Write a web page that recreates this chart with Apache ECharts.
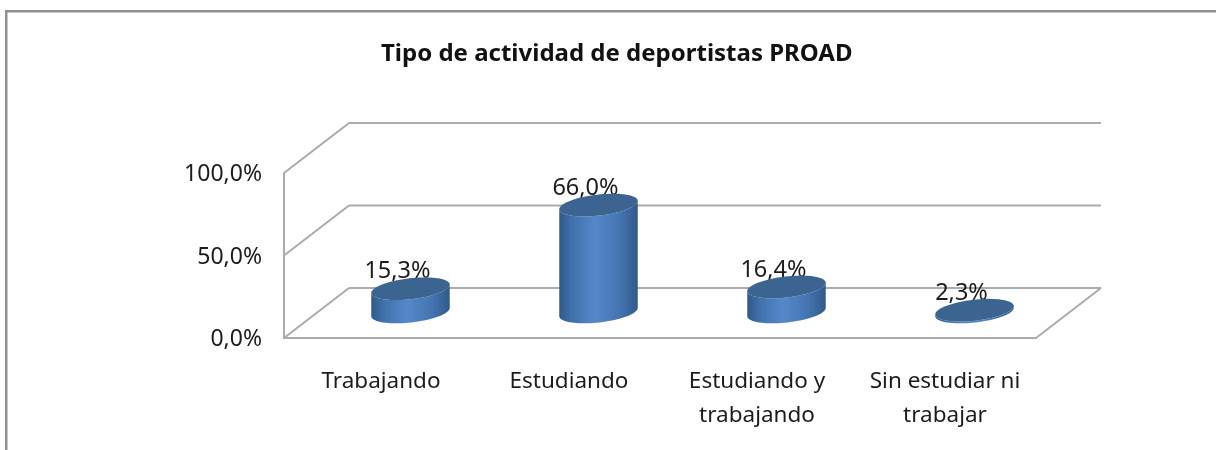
<!DOCTYPE html>
<html>
<head>
<meta charset="utf-8">
<style>html,body{margin:0;padding:0;background:#fff}#c{width:1216px;height:450px}</style>
<script src="https://cdn.jsdelivr.net/npm/echarts@6/dist/echarts.min.js"></script>
</head>
<body>
<div id="c"></div>
<script>
const titleText = 'Tipo de actividad de deportistas PROAD';
const categories = ['Trabajando', 'Estudiando', 'Estudiando y\ntrabajando', 'Sin estudiar ni\ntrabajar'];
const values = [15.3, 66.0, 16.4, 2.3];
const gridTicks = [0, 50, 100];

const fmt = v => v.toFixed(1).replace('.', ',') + '%';
const FONT = '"Noto Sans", sans-serif';
const TEXT = '#1c1c1c';
const LINE = '#ababab';
const DX = 65, DY = -50;           // depth of the 3D box
const RX = 39.5, RY = 10.5, TILT = -6.5 * Math.PI / 180;

function ellipsePts(cx, cy, from, to, n) {
  const pts = [];
  for (let i = 0; i <= n; i++) {
    const t = from + (to - from) * i / n;
    pts.push([
      cx + RX * Math.cos(t) * Math.cos(TILT) - RY * Math.sin(t) * Math.sin(TILT),
      cy + RX * Math.cos(t) * Math.sin(TILT) + RY * Math.sin(t) * Math.cos(TILT)
    ]);
  }
  return pts;
}

const chart = echarts.init(document.getElementById('c'), null, {renderer: 'canvas'});
chart.setOption({
  backgroundColor: '#fff',
  animation: false,
  title: {
    text: titleText, left: 381, top: 42, padding: 0,
    textStyle: {fontFamily: FONT, fontSize: 24, fontWeight: 'bold', color: '#111'}
  },
  grid: {left: 284, right: 180, top: 173, bottom: 112, containLabel: false},
  xAxis: {
    type: 'category', data: categories,
    axisTick: {show: false},
    axisLine: {show: true, lineStyle: {color: LINE, width: 2}},
    axisLabel: {interval: 0, margin: 27, lineHeight: 34, padding: [0, 0, 0, 6], fontFamily: FONT, fontSize: 22.5, color: TEXT}
  },
  yAxis: {
    type: 'value', min: 0, max: 100, interval: 50,
    splitLine: {show: false},
    axisTick: {show: false},
    axisLine: {show: true, lineStyle: {color: LINE, width: 2}},
    axisLabel: {margin: 22, verticalAlign: 'top', padding: [-10, 0, 0, 0], fontFamily: FONT, fontSize: 23, color: TEXT, formatter: v => fmt(v)}
  },
  graphic: [
    {type: 'rect', shape: {x: 5, y: 10, width: 1211, height: 2.5}, style: {fill: '#8f8f8f'}, silent: true},
    {type: 'rect', shape: {x: 5, y: 10, width: 2.5, height: 440}, style: {fill: '#8f8f8f'}, silent: true}
  ],
  series: [
    {
      type: 'custom', coordinateSystem: 'cartesian2d', z: 1, silent: true,
      data: gridTicks.map(v => [0, v]),
      encode: {x: 0, y: 1},
      renderItem(params, api) {
        const p = api.coord([0, api.value(1)]);
        const band = api.size([1, 0])[0];
        const x0 = p[0] - band / 2, y = p[1];
        const x1 = x0 + band * categories.length;
        const st = {stroke: LINE, lineWidth: 2, fill: null};
        const kids = [
          {type: 'line', shape: {x1: x0, y1: y, x2: x0 + DX, y2: y + DY}, style: st},
          {type: 'line', shape: {x1: x0 + DX, y1: y + DY, x2: x1 + DX, y2: y + DY}, style: st}
        ];
        if (api.value(1) === 0) {
          kids.push({type: 'line', shape: {x1: x1, y1: y, x2: x1 + DX, y2: y + DY}, style: st});
        }
        return {type: 'group', children: kids};
      }
    },
    {
      type: 'custom', coordinateSystem: 'cartesian2d', z: 2, silent: true,
      data: values.map((v, i) => [i, v]),
      encode: {x: 0, y: 1},
      renderItem(params, api) {
        const i = api.value(0), v = api.value(1);
        const top = api.coord([i, v]), base = api.coord([i, 0]);
        const cx = top[0] + DX / 2, cyT = top[1] + DY / 2 + 1, cyB = base[1] + DY / 2 - 1;
        const body = ellipsePts(cx, cyB, 0, Math.PI, 40).concat(ellipsePts(cx, cyT, Math.PI, 0, 40));
        return {
          type: 'group',
          children: [
            {type: 'text', style: {
              text: fmt(v), x: cx - 13, y: cyT - 17, align: 'center', verticalAlign: 'middle',
              fontFamily: FONT, fontSize: 23.5, fill: TEXT
            }},
            {type: 'polygon', shape: {points: body}, style: {
              fill: new echarts.graphic.LinearGradient(0, 0, 1, 0, [
                {offset: 0, color: '#2f5988'},
                {offset: 0.15, color: '#3f70ab'},
                {offset: 0.45, color: '#5588cb'},
                {offset: 0.75, color: '#4676b3'},
                {offset: 1, color: '#305a8a'}
              ])
            }},
            {type: 'polygon', shape: {points: ellipsePts(cx, cyT, 0, Math.PI * 2, 80)}, style: {fill: '#3b6491'}}
          ]
        };
      }
    }
  ]
});
</script>
</body>
</html>
